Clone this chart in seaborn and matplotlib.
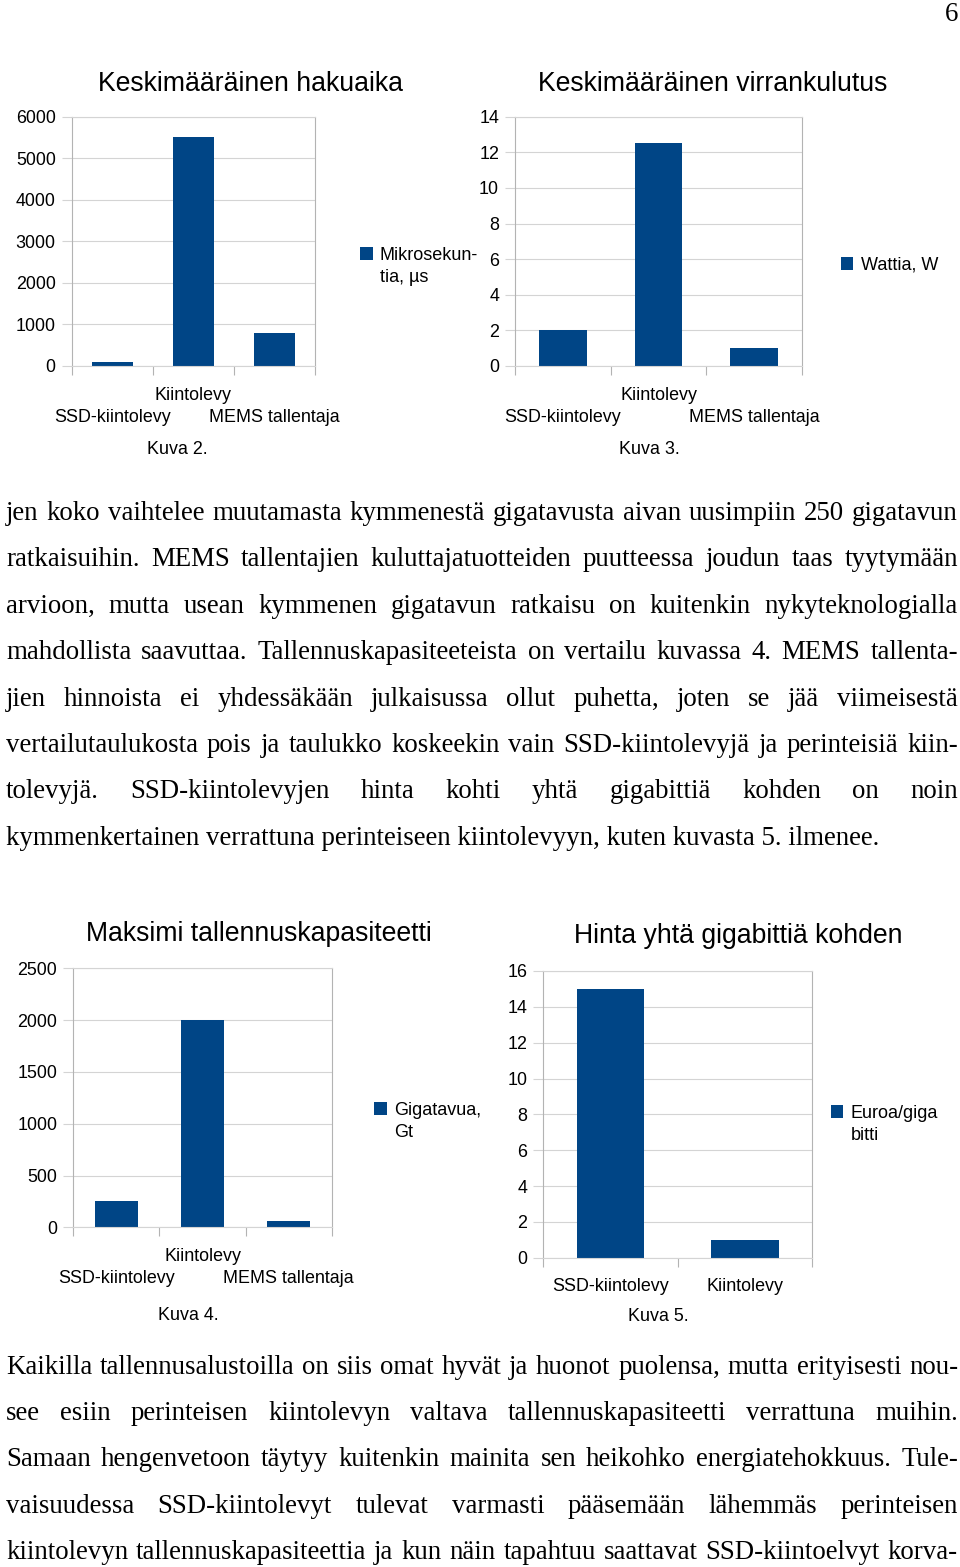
import matplotlib
matplotlib.use("Agg")
import matplotlib.pyplot as plt
from matplotlib.patches import Patch
import seaborn as sns
import pandas as pd
import numpy as np

sns.set_theme(style="white")
plt.rcParams['font.family'] = ['Liberation Sans', 'DejaVu Sans']
for k in ['text.color', 'axes.labelcolor', 'xtick.labelcolor', 'ytick.labelcolor']:
    plt.rcParams[k] = 'black'

# ---------------- data ----------------
seek_categories = ["SSD-kiintolevy", "Kiintolevy", "MEMS tallentaja"]
seek_time_us = [100, 5500, 800]

power_categories = ["SSD-kiintolevy", "Kiintolevy", "MEMS tallentaja"]
power_w = [2, 12.5, 1]

capacity_categories = ["SSD-kiintolevy", "Kiintolevy", "MEMS tallentaja"]
capacity_gt = [250, 2000, 60]

price_categories = ["SSD-kiintolevy", "Kiintolevy"]
price_eur_per_gb = [15, 1]

paragraph1 = [
    ("jen koko vaihtelee muutamasta kymmenestä gigatavusta aivan uusimpiin 250 gigatavun", True),
    ("ratkaisuihin. MEMS tallentajien kuluttajatuotteiden puutteessa joudun taas tyytymään", True),
    ("arvioon, mutta usean kymmenen gigatavun ratkaisu on kuitenkin nykyteknologialla", True),
    ("mahdollista saavuttaa. Tallennuskapasiteeteista on vertailu kuvassa 4. MEMS tallenta-", True),
    ("jien hinnoista ei yhdessäkään julkaisussa ollut puhetta, joten se jää viimeisestä", True),
    ("vertailutaulukosta pois ja taulukko koskeekin vain SSD-kiintolevyjä ja perinteisiä kiin-", True),
    ("tolevyjä. SSD-kiintolevyjen hinta kohti yhtä gigabittiä kohden on noin", True),
    ("kymmenkertainen verrattuna perinteiseen kiintolevyyn, kuten kuvasta 5. ilmenee.", False),
]
paragraph2 = [
    ("Kaikilla tallennusalustoilla on siis omat hyvät ja huonot puolensa, mutta erityisesti nou-", True),
    ("see esiin perinteisen kiintolevyn valtava tallennuskapasiteetti verrattuna muihin.", True),
    ("Samaan hengenvetoon täytyy kuitenkin mainita sen heikohko energiatehokkuus. Tule-", True),
    ("vaisuudessa SSD-kiintolevyt tulevat varmasti pääsemään lähemmäs perinteisen", True),
    ("kiintolevyn tallennuskapasiteettia ja kun näin tapahtuu saattavat SSD-kiintoelvyt korva-", True),
]

# ---------------- layout ----------------
W, H = 960, 1567
fig = plt.figure(figsize=(9.6, 15.67), dpi=100)
fig.patch.set_facecolor("white")

def fx(x):
    return x / W

def fy(y):
    return 1 - y / H

BLUE = "#004586"
GRID = "#d4d4d4"
SPINE = "#b3b3b3"
SANS = ['Liberation Sans', 'DejaVu Sans']
SERIF = ['Liberation Serif', 'DejaVu Serif']
TICK_FS = 12.9
TITLE_FS = 19.2
LEG_FS = 13


def bar_chart(box, cats, vals, ymax, ystep, title, title_xy, legend_lines,
              legend_xy, caption, caption_xy, label_offsets):
    l, t, r, b = box
    ax = fig.add_axes([fx(l), fy(b), fx(r) - fx(l), fy(t) - fy(b)])
    df = pd.DataFrame({"cat": cats, "val": vals})
    sns.barplot(data=df, x="cat", y="val", color=BLUE, width=0.5,
                saturation=1, ax=ax, linewidth=0)
    n = len(cats)
    ax.set_xlim(-0.5, n - 0.5)
    ax.set_ylim(0, ymax)
    ax.set_yticks(np.arange(0, ymax + ystep / 2, ystep))
    ax.set_xticks(np.arange(-0.5, n, 1.0))
    ax.set_xticklabels([])
    ax.tick_params(axis='x', bottom=True, length=6.5, width=0.8, color=SPINE,
                   direction='out')
    ax.tick_params(axis='y', left=True, length=7, width=0.8, color=GRID,
                   direction='out', labelsize=TICK_FS, pad=4.5)
    ax.yaxis.grid(True, color=GRID, lw=0.8)
    ax.xaxis.grid(False)
    ax.set_axisbelow(True)
    for s in ax.spines.values():
        s.set_color(SPINE)
        s.set_linewidth(0.8)
    ax.spines['top'].set_color(GRID)
    ax.spines['bottom'].set_color(GRID)
    ax.set_xlabel("")
    ax.set_ylabel("")
    # category labels (staggered like the original)
    for i, cat in enumerate(cats):
        ax.annotate(cat, xy=(i, 0), xycoords=('data', 'axes fraction'),
                    xytext=(0, -label_offsets[i] * 0.72), textcoords='offset points',
                    ha='center', va='center', fontsize=TICK_FS, annotation_clip=False)
    fig.text(fx(title_xy[0]), fy(title_xy[1]), title, ha='center', va='center',
             fontsize=TITLE_FS)
    fig.text(fx(caption_xy[0]), fy(caption_xy[1]), caption, ha='center', va='center',
             fontsize=TICK_FS)
    sq_x, row_y = legend_xy
    ax.legend(handles=[Patch(facecolor=BLUE, edgecolor='none')],
              labels=[legend_lines[0]], loc='center left',
              bbox_to_anchor=(fx(sq_x), fy(row_y)),
              bbox_transform=fig.transFigure, frameon=False,
              handlelength=0.7, handleheight=0.7, handletextpad=0.4,
              borderaxespad=0, borderpad=0, fontsize=LEG_FS)
    if len(legend_lines) > 1:
        fig.text(fx(sq_x + 20), fy(row_y + 22), legend_lines[1], ha='left',
                 va='center', fontsize=LEG_FS)
    return ax


bar_chart((71.7, 116.7, 315, 366), seek_categories, seek_time_us, 6000, 1000,
          "Keskimääräinen hakuaika", (251, 84), ["Mikrosekun-", "tia, µs"], (360, 255),
          "Kuva 2.", (177, 449), [52, 29, 52])
bar_chart((515, 116.7, 802, 366), power_categories, power_w, 14, 2,
          "Keskimääräinen virrankulutus", (713, 84), ["Wattia, W"], (840.7, 265.5),
          "Kuva 3.", (649.5, 449), [52, 29, 52])
bar_chart((73.3, 968.3, 331.7, 1227.3), capacity_categories, capacity_gt, 2500, 500,
          "Maksimi tallennuskapasiteetti", (258.7, 934), ["Gigatavua,", "Gt"], (374, 1110.5),
          "Kuva 4.", (188, 1315), [51, 29.4, 51])
bar_chart((543.3, 971, 812.3, 1257.7), price_categories, price_eur_per_gb, 16, 2,
          "Hinta yhtä gigabittiä kohden", (737.8, 936), ["Euroa/giga", "bitti"], (830.7, 1113),
          "Kuva 5.", (658.7, 1316.7), [29, 29])

# ---------------- body text ----------------
renderer = fig.canvas.get_renderer()
LEFT, RIGHT = 6, 958
probe = fig.text(0, 0, paragraph1[-1][0], fontsize=10, family=SERIF)
w10 = probe.get_window_extent(renderer).width
probe.remove()
BODY_FS = 10 * 877 / w10
LINE_STEP = 46.4


def draw_paragraph(lines, first_baseline):
    for k, (s, justify) in enumerate(lines):
        yb = first_baseline + k * LINE_STEP
        if not justify:
            fig.text(fx(LEFT), fy(yb), s, fontsize=BODY_FS, family=SERIF,
                     ha='left', va='baseline')
            continue
        words = s.split()
        texts = [fig.text(0, fy(yb), w, fontsize=BODY_FS, family=SERIF,
                          ha='left', va='baseline') for w in words]
        widths = [t.get_window_extent(renderer).width for t in texts]
        gap = (RIGHT - LEFT - sum(widths)) / (len(words) - 1)
        x = LEFT
        for t, w in zip(texts, widths):
            t.set_x(fx(x))
            x += w + gap


draw_paragraph(paragraph1, 520)
draw_paragraph(paragraph2, 1373.5)

fig.text(fx(958), fy(21), "6", fontsize=BODY_FS, family=SERIF, ha='right', va='baseline')

fig.savefig("out.png", dpi=100, facecolor="white")
